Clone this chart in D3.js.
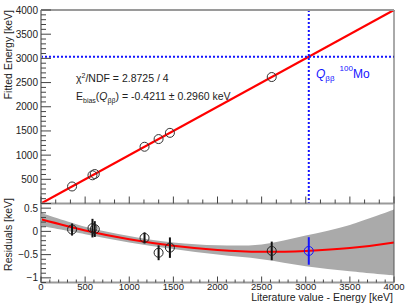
<!DOCTYPE html>
<html><head><meta charset="utf-8">
<script src="https://cdn.jsdelivr.net/npm/d3@7"></script>
<style>body{margin:0;background:#fff}text{font-family:"Liberation Sans",Arial,sans-serif}</style>
</head><body><svg id="c" width="415" height="303"></svg>
<script>
// ---- data ----
const litEnergy = [351.9, 583.2, 609.3, 1173.2, 1332.5, 1460.8, 2614.5];
const fittedEnergy = [351.9, 583.3, 609.4, 1173.1, 1332.0, 1460.4, 2614.1];
const residuals = [0.04, 0.07, 0.05, -0.14, -0.46, -0.35, -0.42];
const resErrors = [0.13, 0.20, 0.17, 0.12, 0.16, 0.22, 0.20];
const qEnergy = [3034.4];
const qBias = [-0.4211];
const qBiasErr = [0.2960];
const lineE = [0, 4000];
const lineFit = [0, 4000];
const curveE = [0, 500, 1000, 1500, 2000, 2500, 3000, 3500, 4000];
const curveRes = [0.26, 0.02, -0.17, -0.31, -0.40, -0.44, -0.42, -0.36, -0.24];
const bandUpper = [0.40, 0.10, -0.10, -0.24, -0.30, -0.28, -0.09, 0.14, 0.47];
const bandLower = [0.12, -0.06, -0.24, -0.38, -0.50, -0.60, -0.75, -0.86, -0.95];
const xTicks = [0, 500, 1000, 1500, 2000, 2500, 3000, 3500, 4000];
const yTopTicks = [500, 1000, 1500, 2000, 2500, 3000, 3500, 4000];
const yBotTicks = [0.5, 0, -0.5, -1];

const svg = d3.select("#c");
const L = 41, R = 394, T = 10, M = 203.5, B = 282.5;
const x = d3.scaleLinear().domain([0, 4000]).range([L, R]);
const yT = d3.scaleLinear().domain([0, 4000]).range([M, T]);
const yB = d3.scaleLinear().domain([-1.1, 0.6]).range([B, M]);
const tickCol = "#444", axCol = "#9a9a9a";

// ---- bottom band ----
const bandData = curveE.map((e, i) => ({e, u: bandUpper[i], l: bandLower[i]}));
svg.append("path").datum(bandData)
  .attr("d", d3.area().x(d => x(d.e)).y0(d => yB(d.l)).y1(d => yB(d.u)).curve(d3.curveCatmullRom))
  .attr("fill", "#aaaaaa");
svg.append("path").datum(curveE.map((e, i) => [e, curveRes[i]]))
  .attr("d", d3.line().x(d => x(d[0])).y(d => yB(d[1])).curve(d3.curveCatmullRom))
  .attr("fill", "none").attr("stroke", "#ff0000").attr("stroke-width", 2);

// ---- top line ----
svg.append("path").datum(lineE.map((e, i) => [e, lineFit[i]]))
  .attr("d", d3.line().x(d => x(d[0])).y(d => yT(d[1])))
  .attr("fill", "none").attr("stroke", "#ff0000").attr("stroke-width", 2);

// blue dotted
const blue = "#1414ff";
svg.append("line").attr("x1", x(0)).attr("x2", x(4000)).attr("y1", yT(qEnergy[0])).attr("y2", yT(qEnergy[0]))
  .attr("stroke", blue).attr("stroke-width", 2).attr("stroke-dasharray", "2,2");
svg.append("line").attr("x1", x(qEnergy[0])).attr("x2", x(qEnergy[0])).attr("y1", T).attr("y2", M)
  .attr("stroke", blue).attr("stroke-width", 2).attr("stroke-dasharray", "2,2");

// top circles
svg.selectAll("c.top").data(litEnergy).enter().append("circle")
  .attr("cx", d => x(d)).attr("cy", (d, i) => yT(fittedEnergy[i])).attr("r", 4.5)
  .attr("fill", "none").attr("stroke", "#333").attr("stroke-width", 1);

// bottom points
litEnergy.forEach((e, i) => {
  svg.append("line").attr("x1", x(e)).attr("x2", x(e))
    .attr("y1", yB(residuals[i] - resErrors[i])).attr("y2", yB(residuals[i] + resErrors[i]))
    .attr("stroke", "#111").attr("stroke-width", 2);
  svg.append("circle").attr("cx", x(e)).attr("cy", yB(residuals[i])).attr("r", 4.5)
    .attr("fill", "none").attr("stroke", "#222").attr("stroke-width", 1);
});
svg.append("line").attr("x1", x(qEnergy[0])).attr("x2", x(qEnergy[0]))
  .attr("y1", yB(qBias[0] - qBiasErr[0])).attr("y2", yB(qBias[0] + qBiasErr[0]))
  .attr("stroke", blue).attr("stroke-width", 2);
svg.append("circle").attr("cx", x(qEnergy[0])).attr("cy", yB(qBias[0])).attr("r", 4.5)
  .attr("fill", "none").attr("stroke", blue).attr("stroke-width", 1);

// ---- axes ----
function vline(xx, y1, y2, c, w) { svg.append("line").attr("x1", xx).attr("x2", xx).attr("y1", y1).attr("y2", y2).attr("stroke", c).attr("stroke-width", w); }
function hline(yy, x1, x2, c, w) { svg.append("line").attr("x1", x1).attr("x2", x2).attr("y1", yy).attr("y2", yy).attr("stroke", c).attr("stroke-width", w); }

// frames
vline(R, T, B, "#555", 1);
hline(T, L, R, axCol, 2);
vline(L, T, B, axCol, 2);
hline(M, L, R, axCol, 2);
hline(B, L, R, axCol, 2);

// top y ticks
d3.range(0, 4001, 100).forEach(v => {
  const major = v % 500 === 0;
  hline(yT(v), L, L + (major ? 10 : 5), tickCol, 1);
});
svg.selectAll("t.yt").data(yTopTicks).enter().append("text")
  .attr("x", 38).attr("y", d => yT(d) + 3.5).attr("text-anchor", "end")
  .attr("font-size", 10).attr("fill", "#222").text(d => d);
// top x ticks (pointing up)
d3.range(0, 4001, 500 / 3).forEach((v, i) => {
  const major = i % 3 === 0;
  vline(x(v), M, M - (major ? 7 : 4), tickCol, 1);
});

// bottom y ticks
d3.range(-11, 7).forEach(k => {
  const v = k / 10;
  const major = k % 5 === 0;
  hline(yB(v), L, L + (major ? 10 : 5), tickCol, 1);
});
svg.selectAll("t.yb").data(yBotTicks).enter().append("text")
  .attr("x", 38).attr("y", d => yB(d) + 3.5).attr("text-anchor", "end")
  .attr("font-size", 10).attr("fill", "#222").text(d => d === 0 ? "0" : (d < 0 ? "\u2212" + Math.abs(d) : d));
// bottom x ticks
d3.range(0, 4001, 100).forEach(v => {
  const major = v % 500 === 0;
  vline(x(v), B, B - (major ? 6 : 3), tickCol, 1);
});
svg.selectAll("t.xb").data(xTicks).enter().append("text")
  .attr("x", d => x(d)).attr("y", 290).attr("text-anchor", "middle")
  .attr("font-size", 9.5).attr("fill", "#222").text(d => d);

// titles
svg.append("text").attr("x", 393).attr("y", 301).attr("text-anchor", "end")
  .attr("font-size", 10.5).attr("fill", "#222").text("Literature value - Energy [keV]");
svg.append("text").attr("transform", "translate(12,10) rotate(-90)").attr("text-anchor", "end")
  .attr("font-size", 10.5).attr("fill", "#222").text("Fitted Energy [keV]");
svg.append("text").attr("transform", "translate(12,198) rotate(-90)").attr("text-anchor", "end")
  .attr("font-size", 10.5).attr("fill", "#222").text("Residuals [keV]");

// annotations
const t1 = svg.append("text").attr("x", 76).attr("y", 82).attr("font-size", 10.5).attr("fill", "#222");
t1.append("tspan").text("\u03c7");
t1.append("tspan").attr("font-size", 7).attr("dy", -4).text("2");
t1.append("tspan").attr("dy", 4).text("/NDF = 2.8725 / 4");
const t2 = svg.append("text").attr("x", 76).attr("y", 100).attr("font-size", 10.5).attr("fill", "#222");
t2.append("tspan").text("E");
t2.append("tspan").attr("font-size", 7).attr("dy", 3).text("bias");
t2.append("tspan").attr("dy", -3).text("(");
t2.append("tspan").attr("font-style", "italic").text("Q");
t2.append("tspan").attr("font-size", 7).attr("dy", 3).text("\u03b2\u03b2");
t2.append("tspan").attr("dy", -3).text(") = -0.4211 \u00b1 0.2960 keV");

const t3 = svg.append("text").attr("x", 316).attr("y", 78).attr("font-size", 12).attr("fill", blue);
t3.append("tspan").attr("font-style", "italic").text("Q");
t3.append("tspan").attr("font-size", 8).attr("dy", 3).text("\u03b2\u03b2");
t3.append("tspan").attr("font-size", 8).attr("dx", 5).attr("dy", -10).text("100");
t3.append("tspan").attr("dy", 7).text("Mo");
</script></body></html>
